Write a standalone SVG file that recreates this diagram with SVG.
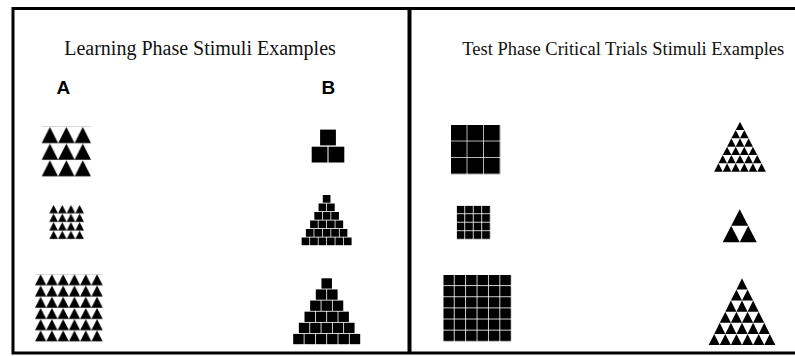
<svg xmlns="http://www.w3.org/2000/svg" xmlns:xlink="http://www.w3.org/1999/xlink" width="795" height="356" viewBox="0 0 795 356">
<style>
.title{font-family:"Liberation Serif","Times New Roman",serif;fill:#111;}
.lab{font-family:"Liberation Sans",Arial,sans-serif;font-weight:bold;font-size:19px;fill:#000;}
.frame{fill:none;stroke:#000;}
.stim{fill:#000;}
</style>
<defs>
<path id="t1" d="M0 16.4L8.22 0.2L16.44 16.4Z"/>
<path id="t2" d="M0 8.4L4.33 0.1L8.67 8.4Z"/>
<path id="t3" d="M0 11.1L5.64 0.1L11.28 11.1Z"/>
<path id="t4" d="M0 8.33L4.31 0L8.62 8.33Z"/>
<path id="t5" d="M0 16.5L8.5 0L17 16.5Z"/>
<path id="t6" d="M0 11.12L5.56 0L11.12 11.12Z"/>
<rect id="s1" width="15.8" height="15.8"/>
<rect id="s2" width="7.7" height="7.7"/>
<rect id="s3" width="10.5" height="10.3"/>
<pattern id="pA1" patternUnits="userSpaceOnUse" x="41.7" y="126.7" width="16.44" height="16.67"><use href="#t1"/></pattern>
<pattern id="pA2" patternUnits="userSpaceOnUse" x="49.3" y="205" width="8.67" height="8.58"><use href="#t2"/></pattern>
<pattern id="pA3" patternUnits="userSpaceOnUse" x="35" y="274.3" width="11.28" height="11.23"><use href="#t3"/></pattern>
<pattern id="pC1" patternUnits="userSpaceOnUse" x="451" y="125" width="16.5" height="16.5"><use href="#s1"/></pattern>
<pattern id="pC2" patternUnits="userSpaceOnUse" x="456.7" y="205.7" width="8.5" height="8.5"><use href="#s2"/></pattern>
<pattern id="pC3" patternUnits="userSpaceOnUse" x="443.3" y="275" width="11.4" height="11.12"><rect width="10.6" height="10.3"/></pattern>
</defs>

<g id="frame">
<polyline class="frame" stroke-width="3" points="795,8.5 13,8.5 13,353 795,353"/>
<line class="frame" stroke-width="4" x1="409.5" y1="7" x2="409.5" y2="354"/>
</g>

<g id="titles">
<text class="title" x="200" y="55" font-size="20" text-anchor="middle">Learning Phase Stimuli Examples</text>
<text class="title" x="623.3" y="55" font-size="18.5" text-anchor="middle">Test Phase Critical Trials Stimuli Examples</text>
<text class="lab" x="56.5" y="94">A</text>
<text class="lab" x="321.5" y="94">B</text>
</g>

<g id="stimA1" class="stim"><rect x="41.7" y="126.7" width="49.32" height="50" fill="url(#pA1)"/></g>
<g id="stimA2" class="stim"><rect x="49.3" y="205" width="34.68" height="34.32" fill="url(#pA2)"/></g>
<g id="stimA3" class="stim"><rect x="35" y="274.3" width="67.68" height="67.38" fill="url(#pA3)"/></g>

<g id="stimB1" class="stim">
<use href="#s1" x="320.1" y="129.6"/>
<use href="#s1" x="311.7" y="146.7"/><use href="#s1" x="328.5" y="146.7"/>
</g>
<g id="stimB2" class="stim">
<use href="#s2" x="322.78" y="195"/>
<use href="#s2" x="318.55" y="203.5"/><use href="#s2" x="327" y="203.5"/>
<use href="#s2" x="314.33" y="212"/><use href="#s2" x="322.78" y="212"/><use href="#s2" x="331.23" y="212"/>
<use href="#s2" x="310.1" y="220.5"/><use href="#s2" x="318.55" y="220.5"/><use href="#s2" x="327" y="220.5"/><use href="#s2" x="335.45" y="220.5"/>
<use href="#s2" x="305.88" y="229"/><use href="#s2" x="314.33" y="229"/><use href="#s2" x="322.78" y="229"/><use href="#s2" x="331.23" y="229"/><use href="#s2" x="339.68" y="229"/>
<use href="#s2" x="301.65" y="237.5"/><use href="#s2" x="310.1" y="237.5"/><use href="#s2" x="318.55" y="237.5"/><use href="#s2" x="327" y="237.5"/><use href="#s2" x="335.45" y="237.5"/><use href="#s2" x="343.9" y="237.5"/>
</g>
<g id="stimB3" class="stim">
<use href="#s3" x="321.45" y="278.3"/>
<use href="#s3" x="315.8" y="289.42"/><use href="#s3" x="327.1" y="289.42"/>
<use href="#s3" x="310.15" y="300.54"/><use href="#s3" x="321.45" y="300.54"/><use href="#s3" x="332.75" y="300.54"/>
<use href="#s3" x="304.5" y="311.66"/><use href="#s3" x="315.8" y="311.66"/><use href="#s3" x="327.1" y="311.66"/><use href="#s3" x="338.4" y="311.66"/>
<use href="#s3" x="298.85" y="322.78"/><use href="#s3" x="310.15" y="322.78"/><use href="#s3" x="321.45" y="322.78"/><use href="#s3" x="332.75" y="322.78"/><use href="#s3" x="344.05" y="322.78"/>
<use href="#s3" x="293.2" y="333.9"/><use href="#s3" x="304.5" y="333.9"/><use href="#s3" x="315.8" y="333.9"/><use href="#s3" x="327.1" y="333.9"/><use href="#s3" x="338.4" y="333.9"/><use href="#s3" x="349.7" y="333.9"/>
</g>

<g id="stimC1" class="stim"><rect x="451" y="125" width="49.3" height="49.3" fill="url(#pC1)"/></g>
<g id="stimC2" class="stim"><rect x="456.7" y="205.7" width="33.7" height="33.7" fill="url(#pC2)"/></g>
<g id="stimC3" class="stim"><rect x="443.3" y="275" width="68" height="66.7" fill="url(#pC3)"/></g>

<g id="stimD1" class="stim">
<use href="#t4" x="735.69" y="121.7"/>
<use href="#t4" x="731.38" y="130.03"/><use href="#t4" x="740" y="130.03"/>
<use href="#t4" x="727.07" y="138.36"/><use href="#t4" x="735.69" y="138.36"/><use href="#t4" x="744.31" y="138.36"/>
<use href="#t4" x="722.76" y="146.69"/><use href="#t4" x="731.38" y="146.69"/><use href="#t4" x="740" y="146.69"/><use href="#t4" x="748.62" y="146.69"/>
<use href="#t4" x="718.45" y="155.02"/><use href="#t4" x="727.07" y="155.02"/><use href="#t4" x="735.69" y="155.02"/><use href="#t4" x="744.31" y="155.02"/><use href="#t4" x="752.93" y="155.02"/>
<use href="#t4" x="714.14" y="163.35"/><use href="#t4" x="722.76" y="163.35"/><use href="#t4" x="731.38" y="163.35"/><use href="#t4" x="740" y="163.35"/><use href="#t4" x="748.62" y="163.35"/><use href="#t4" x="757.24" y="163.35"/>
</g>
<g id="stimD2" class="stim">
<use href="#t5" x="731.2" y="209.3"/>
<use href="#t5" x="722.7" y="225.8"/><use href="#t5" x="739.7" y="225.8"/>
</g>
<g id="stimD3" class="stim">
<use href="#t6" x="736.44" y="278.3"/>
<use href="#t6" x="730.88" y="289.42"/><use href="#t6" x="742" y="289.42"/>
<use href="#t6" x="725.32" y="300.54"/><use href="#t6" x="736.44" y="300.54"/><use href="#t6" x="747.56" y="300.54"/>
<use href="#t6" x="719.76" y="311.66"/><use href="#t6" x="730.88" y="311.66"/><use href="#t6" x="742" y="311.66"/><use href="#t6" x="753.12" y="311.66"/>
<use href="#t6" x="714.2" y="322.78"/><use href="#t6" x="725.32" y="322.78"/><use href="#t6" x="736.44" y="322.78"/><use href="#t6" x="747.56" y="322.78"/><use href="#t6" x="758.68" y="322.78"/>
<use href="#t6" x="708.64" y="333.9"/><use href="#t6" x="719.76" y="333.9"/><use href="#t6" x="730.88" y="333.9"/><use href="#t6" x="742" y="333.9"/><use href="#t6" x="753.12" y="333.9"/><use href="#t6" x="764.24" y="333.9"/>
</g>
</svg>
